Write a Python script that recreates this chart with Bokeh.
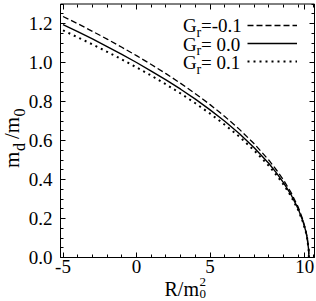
import math
from bokeh.plotting import figure
from bokeh.models import (LinearAxis, FixedTicker, Label, Legend, LegendItem,
                          Range1d, ColumnDataSource, BoxAnnotation)
from bokeh.embed import file_html
from bokeh.resources import INLINE

# ---- data ----
R = [-5, -4, -3, -2, -1, 0, 1, 2, 3, 4, 5, 6, 7, 8, 9, 9.5, 10, 10.5, 11,
     11.3, 11.5, 11.6, 11.7, 11.72]
m_gr_m01 = [1.236, 1.199, 1.160, 1.120, 1.078, 1.035, 0.990, 0.943, 0.893,
            0.840, 0.784, 0.723, 0.657, 0.583, 0.499, 0.450, 0.397, 0.334,
            0.257, 0.196, 0.142, 0.105, 0.043, 0.0]
m_gr_00 = [1.194, 1.158, 1.121, 1.082, 1.042, 1.000, 0.956, 0.911, 0.863,
           0.812, 0.757, 0.699, 0.635, 0.563, 0.482, 0.435, 0.383, 0.323,
           0.248, 0.189, 0.137, 0.101, 0.041, 0.0]
m_gr_p01 = [1.165, 1.129, 1.093, 1.055, 1.016, 0.975, 0.933, 0.888, 0.841,
            0.791, 0.738, 0.681, 0.619, 0.549, 0.470, 0.424, 0.374, 0.315,
            0.242, 0.185, 0.134, 0.099, 0.040, 0.0]

series_values = ["=-0.1", "= 0.0", "= 0.1"]
x_ticks = [-5, 0, 5, 11.43]
x_tick_labels = ["-5", "0", "5", "10"]
x_minor = [-5, -4, -3, -2, -1, 0, 1, 2, 3, 4, 5, 6, 7, 8, 9, 10, 11, 12]
y_ticks = [0.0, 0.2, 0.4, 0.6, 0.8, 1.0, 1.2]
y_tick_labels = ["0.0", "0.2", "0.4", "0.6", "0.8", "1.0", "1.2"]
y_minor = [i * 0.05 for i in range(27)]

FONT = "Liberation Serif"
W, H = 316, 301
# plot box: data limits and where it sits on the canvas (px)
BX0, BX1, BY0, BY1 = -5.17, 12.1, 0.0, 1.3
PX0, PX1, PY0, PY1 = 60, 314, 257, 3.5
sx = (BX1 - BX0) / (PX1 - PX0)
sy = (BY1 - BY0) / (PY0 - PY1)
x_range = Range1d(BX0 - PX0 * sx, BX1 + (W - PX1) * sx)
y_range = Range1d(BY0 - (H - PY0) * sy, BY1 + PY1 * sy)

src = ColumnDataSource(dict(R=R, a=m_gr_m01, b=m_gr_00, c=m_gr_p01))

p = figure(width=W, height=H, output_backend="svg", toolbar_location=None,
           x_range=x_range, y_range=y_range, x_axis_type=None, y_axis_type=None,
           min_border=0, min_border_left=0, min_border_right=0,
           min_border_top=0, min_border_bottom=0)
p.grid.visible = False
p.outline_line_color = None

r1 = p.line("R", "a", source=src, line_color="black", line_width=1.3, line_dash="6 3")
r2 = p.line("R", "b", source=src, line_color="black", line_width=1.4)
r3 = p.line("R", "c", source=src, line_color="black", line_width=2, line_dash="2 4")

p.add_layout(BoxAnnotation(left=BX0, right=BX1, bottom=BY0, top=BY1,
                           fill_color=None, fill_alpha=0, line_color="black",
                           line_width=1, line_alpha=1))

xt = FixedTicker(ticks=x_ticks, minor_ticks=x_minor)
yt = FixedTicker(ticks=y_ticks, minor_ticks=y_minor)

def make_axis(ticker, loc, place, labels):
    ax = LinearAxis(ticker=ticker, fixed_location=loc)
    ax.axis_line_color = None
    ax.major_tick_in = 5
    ax.major_tick_out = 0
    ax.minor_tick_in = 3
    ax.minor_tick_out = 0
    ax.major_tick_line_color = "black"
    ax.minor_tick_line_color = "black"
    ax.major_label_text_font = FONT
    ax.major_label_text_color = "black"
    ax.major_label_text_font_size = "19px"
    if labels is None:
        ax.major_label_overrides = {t: "" for t in ticker.ticks}
    else:
        ax.major_label_overrides = labels
    p.add_layout(ax, place)
    return ax

xa = make_axis(xt, BY0, "below", {t: s for t, s in zip(x_ticks, x_tick_labels)})
xa.major_label_standoff = 2
ya = make_axis(yt, BX0, "left", {t: s for t, s in zip(y_ticks, y_tick_labels)})
ya.major_label_standoff = 8
make_axis(xt, BY1, "above", None)
make_axis(yt, BX1, "right", None)

legend = Legend(items=[LegendItem(label=" ", renderers=[r]) for r in (r1, r2, r3)],
                location=(247, H - 70), glyph_width=50, glyph_height=18,
                label_width=0, label_height=18, label_standoff=0, padding=0,
                spacing=0, margin=0, label_text_font_size="1px",
                background_fill_alpha=0, border_line_alpha=0)
p.add_layout(legend, "center")

MID = 0.34  # distance (em) from the text's middle to its baseline

def lab(text, cx, base, size, angle=0.0):
    # cx/base: canvas px (from top-left); base is the baseline position
    # (y for horizontal text, x for text rotated to read upwards)
    if angle == 0.0:
        x, y = cx, base - MID * size
    else:
        x, y = base - MID * size, cx
    p.add_layout(Label(x=x, y=H - y, x_units="screen", y_units="screen",
                       text=text, text_font=FONT, text_font_size="%dpx" % size,
                       text_color="black", text_baseline="middle",
                       text_align="left", angle=angle))

for i, v in enumerate(series_values):
    b = 31.7 + 18.3 * i
    lab("G", 182.5, b, 19)
    lab("r", 196, b + 5, 14)
    lab(v, 200.5, b, 19)

lab("R/m", 164, 295, 20)
lab("0", 199, 297.5, 13)
lab("2", 199, 286, 13)

ang = math.pi / 2
lab("m", 167.5, 19, 21, ang)
lab("d", 150.5, 24.5, 16, ang)
lab("/m", 138.5, 19, 21, ang)
lab("0", 116, 24.5, 16, ang)

open("out.html", "w").write(file_html(p, INLINE))
